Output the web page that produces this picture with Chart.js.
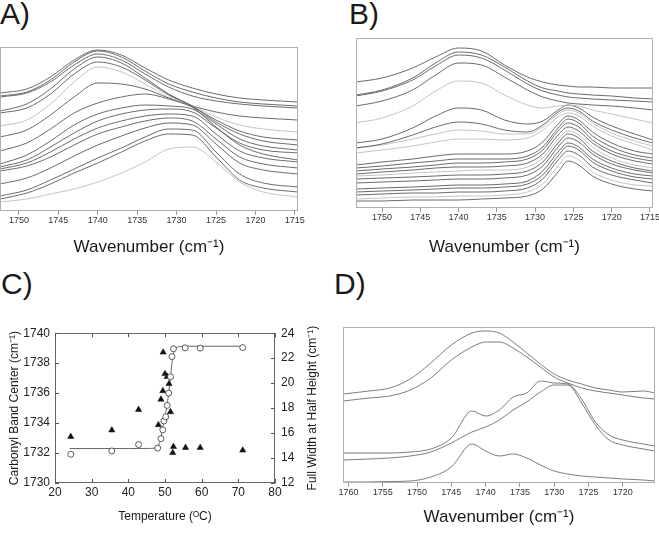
<!DOCTYPE html>
<html>
<head>
<meta charset="utf-8">
<script src="https://cdn.jsdelivr.net/npm/chart.js@4.4.1/dist/chart.umd.min.js"></script>
<style>
  body { margin: 0; background: #fff; width: 659px; height: 539px; position: relative; overflow: hidden;
         font-family: "Liberation Sans", Arial, sans-serif; }
  canvas { position: absolute; }
  .lbl { position: absolute; font-size: 30px; line-height: 30px; color: #1a1a1a; }
</style>
</head>
<body>
<div class="lbl" style="left:0;top:-1px">A)</div>
<div class="lbl" style="left:349px;top:-1px">B)</div>
<div class="lbl" style="left:1px;top:269px">C)</div>
<div class="lbl" style="left:334px;top:269px">D)</div>

<canvas id="chartA" width="312" height="212" style="left:0;top:46px"></canvas>
<canvas id="chartB" width="319" height="221" style="left:340px;top:37px"></canvas>
<canvas id="chartC" width="330" height="210" style="left:0;top:320px"></canvas>
<canvas id="chartD" width="329" height="202" style="left:330px;top:326px"></canvas>

<script>
// data (absorbance in arbitrary units, spectra offset)

// --- panel A ---
const wavenumberA = [1752.4, 1749, 1746, 1743, 1740, 1737, 1734, 1731, 1728, 1725, 1722, 1719, 1714.6];
const spectraA = [
  [118, 122, 134, 151, 161, 156, 143, 131, 123, 117, 113, 111, 109],
  [115, 119, 131, 149, 160, 154, 140, 127, 119, 113, 109, 107, 105],
  [114, 118, 129, 146, 157, 151, 137, 124, 115, 110, 107, 105, 103],
  [100, 107, 122, 142, 154, 148, 133, 117, 105, 89, 77, 70, 66],
  [98, 103, 117, 137, 149, 144, 131, 116, 104, 84, 66, 57, 51],
  [85, 91, 107, 129, 144, 139, 127, 114, 105, 94, 86, 82, 79],
  [74, 81, 96, 114, 128, 127, 122, 113, 105, 99, 95, 93, 91],
  [60, 68, 82, 98, 108, 114, 117, 112, 104, 91, 80, 74, 71],
  [47, 56, 70, 86, 97, 103, 106, 105, 102, 87, 72, 65, 61],
  [44, 51, 64, 78, 90, 97, 101, 102, 99, 83, 68, 61, 58],
  [42, 48, 59, 72, 83, 90, 95, 97, 95, 77, 60, 53, 49],
  [40, 45, 54, 66, 77, 84, 90, 93, 90, 72, 54, 47, 43],
  [27, 33, 43, 55, 66, 75, 83, 88, 86, 67, 48, 41, 37],
  [15, 21, 31, 42, 53, 63, 74, 82, 81, 59, 37, 28, 24],
  [12, 18, 27, 38, 48, 59, 70, 77, 76, 54, 31, 23, 19],
  [9, 12, 17, 22, 29, 38, 49, 62, 64, 49, 29, 19, 14]
];
const ticksA = [1750, 1745, 1740, 1735, 1730, 1725, 1720, 1715];

// --- panel B ---
const wavenumberB = [1753.4, 1750, 1746, 1743, 1740, 1737, 1734, 1731, 1729, 1727, 1725.7, 1724.3, 1722.5, 1720, 1717, 1714.6];
const spectraB = [
  [126, 130, 140, 151, 160, 157, 143, 131, 126, 123, 122, 121, 121, 120, 120, 120],
  [113, 118, 130, 145, 156, 153, 141, 127, 120, 117, 115, 114, 113, 112, 110, 109],
  [112, 117, 128, 142, 153, 150, 138, 124, 117, 113, 111, 110, 109, 108, 107, 106],
  [102, 107, 118, 133, 145, 143, 131, 118, 111, 107, 105, 104, 103, 102, 100, 98],
  [85, 90, 102, 117, 127, 125, 113, 103, 100, 102, 103, 102, 98, 94, 89, 85],
  [65, 69, 80, 92, 100, 98, 88, 84, 87, 98, 103, 100, 91, 82, 74, 68],
  [60, 64, 73, 81, 86, 84, 78, 76, 83, 96, 100, 97, 87, 78, 70, 65],
  [60, 63, 69, 74, 78, 77, 74, 74, 81, 94, 98, 95, 85, 75, 67, 62],
  [55, 58, 62, 66, 69, 69, 68, 70, 78, 91, 95, 92, 82, 72, 64, 58],
  [43, 46, 49, 52, 54, 54, 54, 57, 66, 84, 92, 88, 76, 65, 57, 54],
  [40, 42, 45, 47, 49, 49, 49, 52, 61, 80, 89, 85, 72, 61, 53, 50],
  [37, 39, 41, 43, 45, 45, 46, 49, 58, 77, 85, 81, 68, 57, 50, 47],
  [34, 36, 38, 40, 41, 41, 42, 45, 54, 73, 81, 77, 65, 54, 47, 44],
  [32, 33, 35, 36, 37, 38, 38, 41, 50, 69, 77, 73, 61, 50, 43, 40],
  [29, 30, 31, 32, 33, 33, 34, 37, 46, 65, 74, 70, 57, 47, 40, 37],
  [25, 26, 27, 28, 29, 29, 30, 33, 42, 61, 70, 66, 54, 44, 38, 35],
  [19, 20, 21, 22, 23, 23, 24, 27, 37, 56, 65, 61, 49, 40, 34, 32],
  [16, 17, 18, 19, 20, 20, 21, 24, 33, 52, 62, 58, 46, 37, 31, 29],
  [13, 14, 15, 15, 16, 16, 17, 20, 29, 48, 57, 53, 41, 33, 28, 25],
  [9, 10, 11, 11, 12, 12, 13, 16, 24, 42, 52, 48, 36, 28, 23, 22],
  [7, 7, 8, 8, 8, 9, 10, 12, 19, 36, 47, 43, 32, 24, 19, 17]
];
const ticksB = [1750, 1745, 1740, 1735, 1730, 1725, 1720, 1715];

// --- panel C ---
const tempCenter = [24.3, 35.5, 42.8, 48.0, 48.9, 49.4, 49.7, 50.2, 50.6, 51.0, 51.5, 51.9, 52.3, 55.5, 59.6, 71.2];
const bandCenter = [1731.92, 1732.14, 1732.57, 1732.33, 1732.96, 1733.55, 1734.14, 1734.42, 1735.18, 1736.0,
                    1737.09, 1738.44, 1738.96, 1739.02, 1739.0, 1739.04];
const tempWidth = [24.3, 35.5, 42.8, 48.2, 48.9, 49.4, 49.5, 50.0, 50.6, 51.1, 51.5, 52.3, 52.1, 55.6, 59.6, 71.2];
const fullWidth = [15.71, 16.23, 17.87, 16.65, 18.70, 19.38, 22.47, 20.75, 20.52, 19.95, 17.69, 14.91, 14.42,
                   14.83, 14.83, 14.62];
const tempFit = [24, 30, 40, 46, 47.3, 48, 48.5, 49, 49.5, 50, 50.5, 51, 51.5, 52, 52.5, 53, 54, 56, 62, 71];
const centerFit = [1732.3, 1732.3, 1732.3, 1732.31, 1732.34, 1732.42, 1732.7, 1733.2, 1733.85, 1734.5, 1735.1,
                   1736.0, 1737.1, 1738.2, 1738.8, 1739.0, 1739.1, 1739.13, 1739.13, 1739.13];

// --- panel D ---
const wavenumberD = [1760.8, 1757, 1754, 1751, 1748, 1745, 1742, 1740, 1738, 1736, 1734, 1732, 1730, 1728,
                     1726, 1724, 1722, 1720, 1717, 1715.3];
const spectraD = [
  [89, 92, 95, 104, 120, 138, 150, 152, 150, 141, 130, 119, 109, 103, 99, 95, 93, 91, 92, 90],
  [82, 85, 87, 93, 105, 123, 136, 141, 141, 135, 126, 116, 106, 100, 95, 92, 90, 88, 85, 84],
  [30, 30, 30, 31, 34, 45, 72, 67, 73, 86, 90, 102, 100, 99, 84, 61, 48, 43, 39, 37],
  [23, 24, 25, 27, 31, 40, 51, 56, 63, 73, 81, 91, 98, 98, 80, 58, 43, 38, 34, 32],
  [1, 1, 1.5, 2, 6, 16, 39, 32, 27, 29, 25, 18, 12, 9, 7, 6, 5, 4, 3, 2]
];
const ticksD = [1760, 1755, 1750, 1745, 1740, 1735, 1730, 1725, 1720];

// line shades (dark / light grey traces)
const DARK = '#5a5a5a', LIGHT = '#bdbdbd';
const shadeA = spectraA.map((s, i) => (i === 5 || i === 15) ? LIGHT : DARK);
const shadeB = spectraB.map((s, i) => [4, 7, 8, 13, 19].includes(i) ? LIGHT : DARK);
const shadeD = spectraD.map(() => '#6e6e6e');

const FONT = '"Liberation Sans", Arial, sans-serif';

// box around the plot area
const framePlugin = {
  id: 'frame',
  afterDatasetsDraw(chart, args, opts) {
    const a = chart.chartArea, ctx = chart.ctx;
    ctx.save();
    ctx.strokeStyle = opts.color || '#999';
    ctx.lineWidth = 1;
    ctx.strokeRect(Math.round(a.left) + 0.5, Math.round(a.top) + 0.5,
                   Math.round(a.right - a.left) - 1, Math.round(a.bottom - a.top) - 1);
    ctx.restore();
  }
};

function spectrumPanel(id, wn, spectra, shades, xmin, xmax, ymax, tickValues, pad, axisH) {
  new Chart(document.getElementById(id), {
    type: 'line',
    data: {
      datasets: spectra.map((s, i) => ({
        data: wn.map((w, j) => ({ x: w, y: s[j] })),
        borderColor: shades[i],
        borderWidth: 0.9,
        pointRadius: 0,
        cubicInterpolationMode: 'monotone',
        fill: false
      }))
    },
    options: {
      responsive: false,
      animation: false,
      events: [],
      layout: { padding: pad },
      plugins: { legend: { display: false }, tooltip: { enabled: false }, frame: { color: '#b0b0b0' } },
      scales: {
        x: {
          type: 'linear', reverse: true, min: xmin, max: xmax,
          afterBuildTicks: s => { s.ticks = tickValues.map(v => ({ value: v })); },
          afterFit: s => { s.height = axisH; s.paddingLeft = 0; s.paddingRight = 0; },
          grid: { display: true, drawOnChartArea: false, drawTicks: true, tickLength: 4, color: '#999' },
          border: { display: false },
          ticks: { font: { size: 9, family: FONT }, color: '#333', padding: 0, maxRotation: 0,
                   autoSkip: false, callback: v => String(v) },
          title: { display: true, text: 'Wavenumber (cm⁻¹)', font: { size: 17, family: FONT },
                   color: '#1a1a1a', padding: 0 }
        },
        y: { display: false, min: 0, max: ymax }
      }
    },
    plugins: [framePlugin]
  });
}

spectrumPanel('chartA', wavenumberA, spectraA, shadeA, 1714.6, 1752.4, 164, ticksA,
              { left: 0, right: 14, top: 1, bottom: 0 }, 47);
spectrumPanel('chartB', wavenumberB, spectraB, shadeB, 1714.6, 1753.4, 170, ticksB,
              { left: 16, right: 6, top: 1, bottom: 0 }, 50);
spectrumPanel('chartD', wavenumberD, spectraD, shadeD, 1715.3, 1760.8, 156, ticksD,
              { left: 13, right: 4, top: 1, bottom: 0 }, 45);

// --- panel C: inward ticks on every side, right title reads upwards ---
const innerTicks = {
  id: 'innerTicks',
  afterDatasetsDraw(chart) {
    const { ctx, chartArea: a, scales } = chart;
    ctx.save();
    ctx.strokeStyle = '#555';
    ctx.lineWidth = 1;
    ctx.beginPath();
    scales.x.ticks.forEach(t => {
      const px = Math.round(scales.x.getPixelForValue(t.value)) + 0.5;
      ctx.moveTo(px, a.bottom); ctx.lineTo(px, a.bottom - 4);
      ctx.moveTo(px, a.top); ctx.lineTo(px, a.top + 4);
    });
    scales.y.ticks.forEach(t => {
      const py = Math.round(scales.y.getPixelForValue(t.value)) + 0.5;
      ctx.moveTo(a.left, py); ctx.lineTo(a.left + 4, py);
    });
    scales.y1.ticks.forEach(t => {
      const py = Math.round(scales.y1.getPixelForValue(t.value)) + 0.5;
      ctx.moveTo(a.right, py); ctx.lineTo(a.right - 4, py);
    });
    ctx.stroke();
    // right axis title
    ctx.fillStyle = '#1a1a1a';
    ctx.font = '12px ' + FONT;
    ctx.textAlign = 'center';
    ctx.textBaseline = 'middle';
    ctx.translate(scales.y1.right - 17, (a.top + a.bottom) / 2);
    ctx.rotate(-Math.PI / 2);
    ctx.fillText('Full Width at Half Height (cm⁻¹)', 0, 0);
    ctx.restore();
  }
};

new Chart(document.getElementById('chartC'), {
  type: 'line',
  data: {
    datasets: [
      {
        label: 'Carbonyl band center',
        data: tempCenter.map((t, i) => ({ x: t, y: bandCenter[i] })),
        yAxisID: 'y', showLine: false,
        pointStyle: 'circle', pointRadius: 3,
        pointBackgroundColor: '#fff', pointBorderColor: '#333', pointBorderWidth: 0.8
      },
      {
        label: 'Full width at half height',
        data: tempWidth.map((t, i) => ({ x: t, y: fullWidth[i] })),
        yAxisID: 'y1', showLine: false,
        pointStyle: 'triangle', pointRadius: 3.6,
        pointBackgroundColor: '#111', pointBorderColor: '#111', pointBorderWidth: 0.5
      },
      {
        label: 'Fit',
        data: tempFit.map((t, i) => ({ x: t, y: centerFit[i] })),
        yAxisID: 'y', borderColor: '#666', borderWidth: 1, pointRadius: 0,
        cubicInterpolationMode: 'monotone', fill: false
      }
    ]
  },
  options: {
    responsive: false,
    animation: false,
    events: [],
    layout: { padding: { left: 0, right: 0, top: 9, bottom: 0 } },
    plugins: { legend: { display: false }, tooltip: { enabled: false }, frame: { color: '#666' } },
    scales: {
      x: {
        type: 'linear', min: 20, max: 80,
        afterFit: s => { s.height = 47; s.paddingLeft = 0; s.paddingRight = 0; },
        grid: { display: false, drawTicks: false },
        border: { display: false },
        ticks: { stepSize: 10, font: { size: 12, family: FONT }, color: '#222', padding: 2, maxRotation: 0,
                 callback: v => String(v) },
        title: { display: true, text: 'Temperature (ᴼC)', font: { size: 12, family: FONT }, color: '#1a1a1a',
                 padding: { top: 0, bottom: 6 } }
      },
      y: {
        position: 'left', min: 1730, max: 1740,
        afterFit: s => { s.width = 55; },
        grid: { display: false, drawTicks: false },
        border: { display: false },
        ticks: { stepSize: 2, font: { size: 12, family: FONT }, color: '#222', padding: 5,
                 callback: v => String(v) },
        title: { display: true, text: 'Carbonyl Band Center (cm⁻¹)', font: { size: 12, family: FONT },
                 color: '#1a1a1a', padding: { top: 7, bottom: 0 } }
      },
      y1: {
        position: 'right', min: 12, max: 24,
        afterFit: s => { s.width = 55; },
        grid: { display: false, drawTicks: false },
        border: { display: false },
        ticks: { stepSize: 2, font: { size: 12, family: FONT }, color: '#222', padding: 6,
                 callback: v => String(v) }
      }
    }
  },
  plugins: [framePlugin, innerTicks]
});
</script>
</body>
</html>
